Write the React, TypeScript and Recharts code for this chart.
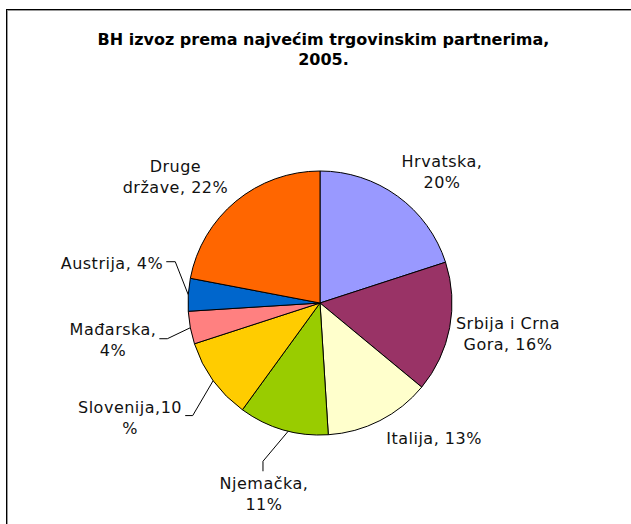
import React from 'react';
import { PieChart, Pie, Cell } from 'recharts';

// ---- data ----
const partners = ['Hrvatska', 'Srbija i Crna Gora', 'Italija', 'Njemačka', 'Slovenija', 'Mađarska', 'Austrija', 'Druge države'];
const shares = [20, 16, 13, 11, 10, 4, 4, 22];
const labelLines = [
  ['Hrvatska,', '20%'],
  ['Srbija i Crna', 'Gora, 16%'],
  ['Italija, 13%'],
  ['Njemačka,', '11%'],
  ['Slovenija,10', '%'],
  ['Mađarska,', '4%'],
  ['Austrija, 4%'],
  ['Druge', 'države, 22%'],
];
const titleLines = ['BH izvoz prema najvećim trgovinskim partnerima,', '2005.'];
const colors = ['#9999FF', '#993366', '#FFFFCC', '#99CC00', '#FFCC00', '#FF8080', '#0066CC', '#FF6600'];

// ---- layout (label offsets from slice edge midpoint) ----
const labelOffsets: [number, number][] = [
  [44.4, -24.7],
  [58.3, 6.3],
  [54.1, 17.4],
  [-19.2, 64.2],
  [-83.2, 37.4],
  [-77.3, 11.8],
  [-76.3, -31.7],
  [-60.4, -24.8],
];
const leaders: ([number, number][] | null)[] = [
  null,
  null,
  null,
  [[5, 1.5], [-20.2, 31.5], [-20.2, 41.5]],
  [[0, 0], [-20.5, 35], [-28, 35]],
  [[0, 0], [-23, 11], [-31, 11]],
  [[0, 0], [-13, -33], [-22, -33]],
  null,
];

const data = partners.map((name, i) => ({ name, value: shares[i] }));

const FONT = '"DejaVu Sans", Verdana, sans-serif';
const FS = 16;
const LH = 21;

const renderLabel = (props: any) => {
  const { cx, cy, midAngle, outerRadius, index } = props;
  const rad = (Math.PI / 180) * midAngle;
  const ex = cx + outerRadius * Math.cos(rad);
  const ey = cy - outerRadius * Math.sin(rad);
  const [dx, dy] = labelOffsets[index];
  const lines = labelLines[index];
  const lx = ex + dx;
  const lyc = ey + dy;
  const first = lyc - ((lines.length - 1) * LH) / 2;
  const leader = leaders[index];
  return (
    <g key={`lbl-${index}`}>
      {leader && (
        <polyline
          points={leader.map(([a, b]) => `${ex + a},${ey + b}`).join(' ')}
          fill="none"
          stroke="#000"
          strokeWidth={1}
        />
      )}
      <text textAnchor="middle" fontFamily={FONT} fontSize={FS} fill="#111" letterSpacing={0.5}>
        {lines.map((t, k) => (
          <tspan key={k} x={lx} y={first + k * LH + 5.8}>
            {t}
          </tspan>
        ))}
      </text>
    </g>
  );
};

export default function App() {
  return (
    <div style={{ position: 'absolute', left: 0, top: 0, width: 631, height: 524, overflow: 'hidden', background: '#fff' }}>
      <div style={{ position: 'absolute', left: 6, top: 9, width: 800, height: 800, borderTop: '1px solid #000', borderLeft: '1px solid #000' }} />
      <div style={{ position: 'absolute', left: 7, top: 10, width: 800, height: 800, borderTop: '1px solid #999', borderLeft: '1px solid #999' }} />
      <div
        style={{
          position: 'absolute',
          left: 0,
          top: 30,
          width: 647,
          textAlign: 'center',
          fontFamily: FONT,
          fontWeight: 'bold',
          fontSize: 16,
          lineHeight: '20px',
          color: '#000',
        }}
      >
        {titleLines.map((t, i) => (
          <div key={i}>{t}</div>
        ))}
      </div>
      <div style={{ position: 'absolute', left: 0, top: 0 }}>
        <PieChart width={631} height={524} margin={{ top: 0, right: 0, bottom: 0, left: 0 }}>
          <Pie
            data={data}
            dataKey="value"
            nameKey="name"
            cx={320}
            cy={303}
            outerRadius={132}
            startAngle={90}
            endAngle={-270}
            stroke="#000"
            strokeWidth={1}
            label={renderLabel}
            labelLine={false}
            isAnimationActive={false}
          >
            {data.map((d, i) => (
              <Cell key={d.name} fill={colors[i]} />
            ))}
          </Pie>
        </PieChart>
      </div>
    </div>
  );
}
